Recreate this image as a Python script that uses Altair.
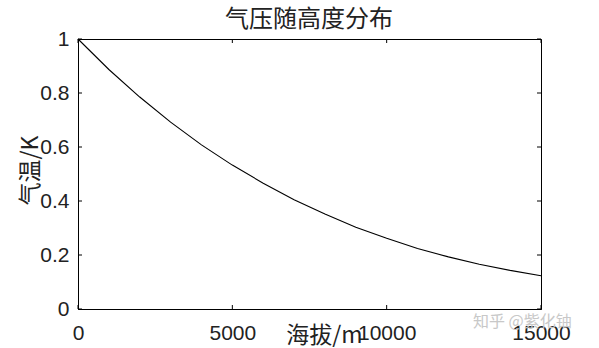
import altair as alt
import pandas as pd

altitude = [0, 1000, 2000, 3000, 4000, 5000, 6000, 7000, 8000, 9000, 10000,
            11000, 12000, 13000, 14000, 15000]
pressure = [1.0, 0.887, 0.785, 0.692, 0.608, 0.533, 0.466, 0.405, 0.352,
            0.303, 0.262, 0.224, 0.193, 0.166, 0.143, 0.123]
x_ticks = [0, 5000, 10000, 15000]
y_ticks = [0, 0.2, 0.4, 0.6, 0.8, 1.0]

title_text = "气压随高度分布"
x_title = "海拔/m"
y_title = "气温/K"
watermark = "知乎 @紫化铀"

df = pd.DataFrame({"h": altitude, "p": pressure})
xt = pd.DataFrame({"h": x_ticks})
yt = pd.DataFrame({"p": y_ticks})

W, H = 463, 270
CJK = "Noto Sans CJK SC"
NUM = "Liberation Sans"

xs = alt.Scale(domain=[0, 15000], nice=False)
ys = alt.Scale(domain=[0, 1], nice=False)

line = alt.Chart(df).mark_line(color="black", strokeWidth=1.1).encode(
    x=alt.X("h:Q", scale=xs,
            axis=alt.Axis(values=x_ticks, format="d", title=x_title,
                          titleX=246, titleY=26, titleBaseline="middle",
                          titleAlign="center", titleFont=CJK, titleFontSize=23,
                          titleFontWeight="normal", titleColor="#222",
                          labelFont=NUM, labelFontSize=21, labelColor="#222",
                          labelPadding=13, ticks=False, domainColor="black",
                          labelFlush=False, labelOverlap=False, grid=False)),
    y=alt.Y("p:Q", scale=ys,
            axis=alt.Axis(values=y_ticks, format="~g", title=y_title,
                          titleX=-48, titleY=131, titleAngle=270,
                          titleBaseline="middle", titleAlign="center",
                          titleFont=CJK, titleFontSize=23,
                          titleFontWeight="normal", titleColor="#222",
                          labelFont=NUM, labelFontSize=21, labelColor="#222",
                          labelPadding=9, ticks=False, domainColor="black",
                          labelFlush=False, labelOverlap=False, grid=False)),
)

tick_style = dict(color="black", strokeWidth=1)
xb = alt.Chart(xt).mark_rule(**tick_style).encode(
    x=alt.X("h:Q", scale=xs), y=alt.value(H), y2=alt.value(H - 4))
xtop = alt.Chart(xt).mark_rule(**tick_style).encode(
    x=alt.X("h:Q", scale=xs), y=alt.value(0), y2=alt.value(4))
yl = alt.Chart(yt).mark_rule(**tick_style).encode(
    y=alt.Y("p:Q", scale=ys), x=alt.value(0), x2=alt.value(4))
yr = alt.Chart(yt).mark_rule(**tick_style).encode(
    y=alt.Y("p:Q", scale=ys), x=alt.value(W), x2=alt.value(W - 4))

title = alt.Chart(pd.DataFrame({"t": [title_text]})).mark_text(
    font=CJK, fontSize=24, color="#222", align="center", baseline="middle"
).encode(text="t:N", x=alt.value(231), y=alt.value(-19))

wm = alt.Chart(pd.DataFrame({"t": [watermark]})).mark_text(
    font=CJK, fontSize=16, color="#c8c8c8", align="left", baseline="middle"
).encode(text="t:N", x=alt.value(395), y=alt.value(283))

chart = alt.layer(line, xb, xtop, yl, yr, title, wm).properties(
    width=W, height=H,
    padding={"left": 78, "top": 39, "right": 58, "bottom": 39},
    autosize=alt.AutoSizeParams(type="none"),
    background="white",
).configure_view(stroke="black", strokeWidth=1)

chart.save("out.html", embed_options={"renderer": "svg", "actions": False})
